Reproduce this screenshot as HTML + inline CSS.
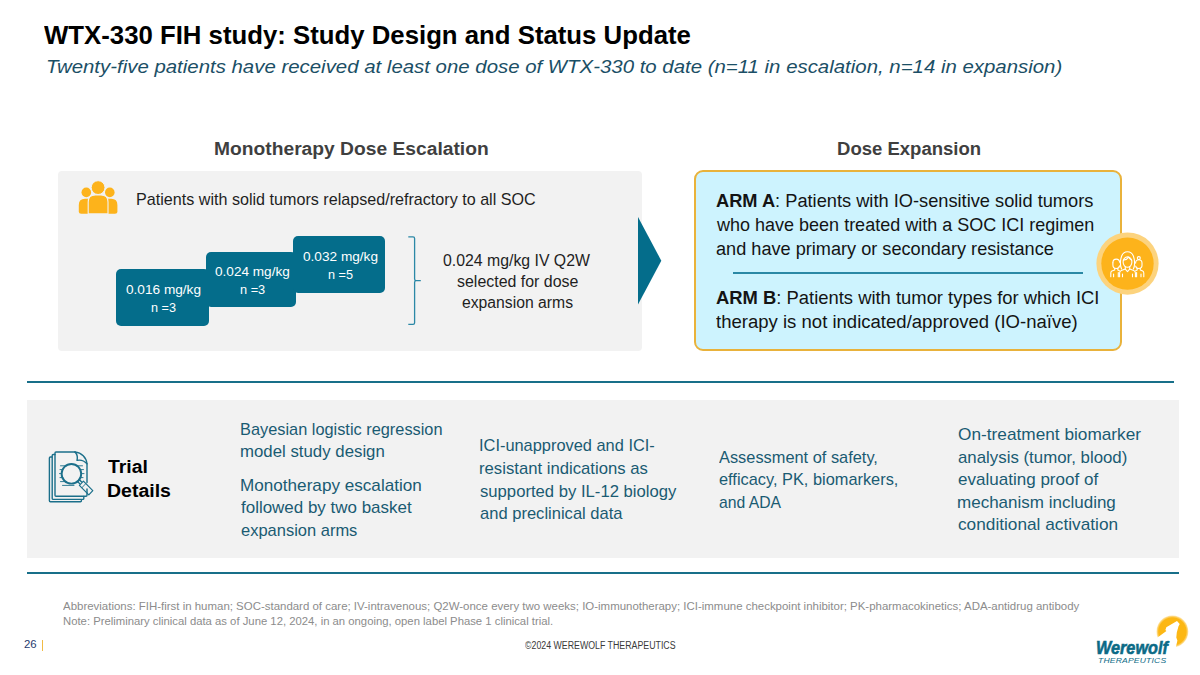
<!DOCTYPE html>
<html lang="en"><head><meta charset="utf-8"><title>WTX-330 FIH study: Study Design and Status Update</title>
<style>
html,body{margin:0;padding:0;background:#fff}
body{width:1200px;height:675px;position:relative;overflow:hidden;font-family:"Liberation Sans",sans-serif}
.t{position:absolute;white-space:nowrap;line-height:1;transform-origin:0 0;font-weight:400}
.t b{font-weight:700}
.s{position:absolute}
svg{position:absolute;overflow:visible}
</style></head><body>
<!-- escalation panel -->
<div class="s" style="left:58px;top:170.5px;width:584px;height:180.75px;background:#f2f2f2;border-radius:4px"></div>
<!-- lower band + rules -->
<div class="s" style="left:27px;top:399.5px;width:1152.25px;height:158.5px;background:#f2f2f2"></div>
<div class="s" style="left:27px;top:380.75px;width:1146.75px;height:2px;background:#186f89"></div>
<div class="s" style="left:27px;top:572px;width:1152px;height:2px;background:#186f89"></div>
<!-- dose boxes -->
<div class="s" style="left:115.75px;top:269.25px;width:93px;height:56.75px;background:#046d8b;border-radius:5px"></div>
<div class="s" style="left:205.75px;top:252px;width:90px;height:55px;background:#046d8b;border-radius:5px"></div>
<div class="s" style="left:292.5px;top:235.5px;width:92.5px;height:57px;background:#046d8b;border-radius:5px"></div>
<!-- bracket + arrow -->
<svg width="1200" height="675" style="left:0;top:0" viewBox="0 0 1200 675">
  <path d="M408.3 236.9 H413 Q414.6 236.9 414.6 238.5 V279 Q414.6 280.6 416.2 280.6 H420.8 H416.2 Q414.6 280.6 414.6 282.2 V322.8 Q414.6 324.4 413 324.4 H408.3" fill="none" stroke="#2b88a6" stroke-width="1.3"/>
  <polygon points="638,217 661.3,260.7 638,304.5" fill="#046d8b"/>
</svg>
<!-- people (solid) icon -->
<svg width="1200" height="675" style="left:0;top:0" viewBox="0 0 1200 675">
  <g fill="#fdb31b">
    <circle cx="86.3" cy="192.4" r="4.8"/><circle cx="109.8" cy="192.4" r="4.8"/>
    <path d="M78.8 211.3 V205 Q78.8 198.8 85 198.8 H90 V213.8 H81.3 Q78.8 213.8 78.8 211.3Z"/>
    <path d="M117.4 211.3 V205 Q117.4 198.8 111.2 198.8 H106 V213.8 H114.9 Q117.4 213.8 117.4 211.3Z"/>
    <circle cx="98.1" cy="187.6" r="6.9" stroke="#f2f2f2" stroke-width="1"/>
    <path d="M88.2 213.9 V202 Q88.2 195 95.2 195 H101 Q108 195 108 202 V213.9Z" stroke="#f2f2f2" stroke-width="1.1"/>
  </g>
</svg>
<!-- expansion panel -->
<div class="s" style="left:693.75px;top:170px;width:424.25px;height:177.25px;background:#cdf3fe;border:2px solid #e9b23b;border-radius:9px"></div>
<div class="s" style="left:732.5px;top:272px;width:350.5px;height:1.5px;background:#2a88a5"></div>
<svg width="1200" height="675" style="left:0;top:0" viewBox="0 0 1200 675">
  <circle cx="1127.5" cy="263.6" r="31.1" fill="#fcd37e"/>
  <circle cx="1127.5" cy="263.6" r="26.2" fill="#fdb31b"/>
  <g fill="none" stroke="#fff" stroke-width="1.1" stroke-linecap="round" stroke-linejoin="round" transform="translate(0 0.5)">
    <!-- centre person -->
    <path d="M1121.6 268.5 C1120.3 266 1120.2 262 1120.8 258.5 C1121.6 253.8 1124 251.3 1127.5 251.3 C1131 251.3 1133.4 253.8 1134.2 258.5 C1134.8 262 1134.7 266 1133.4 268.5"/>
    <ellipse cx="1127.5" cy="261.6" rx="4.4" ry="5.2"/>
    <path d="M1123.4 259.6 C1125.5 259.4 1127.6 258.3 1128.6 256.6 C1129.4 258.2 1130.4 259.2 1131.7 259.8"/>
    <path d="M1125.3 266.3 V268.6 L1127.5 271.2 L1129.7 268.6 V266.3"/>
    <path d="M1125.3 268.6 L1121.3 270 Q1119.6 270.7 1119.6 272.5 V276.2 M1129.7 268.6 L1133.7 270 Q1135.4 270.7 1135.4 272.5 V276.2"/>
    <path d="M1122.5 273.5 V276.2 M1132.5 273.5 V276.2"/>
    <!-- left person -->
    <path d="M1112.9 262.2 Q1112.9 258.6 1116.3 258.6 Q1119.4 258.6 1119.6 261.8"/>
    <path d="M1112.9 262.2 V264.6 Q1112.9 268 1116.2 268 Q1119 268 1119.5 265.3"/>
    <path d="M1114.7 267.8 V269.4 L1111.9 270.6 Q1110.8 271.2 1110.8 272.5 V276.2 M1117.8 267.8 V269.4 L1119.4 270.2"/>
    <path d="M1113.6 273.6 V276.2 M1118.3 272 V276.2"/>
    <!-- right person -->
    <circle cx="1138.8" cy="257.6" r="1.5"/>
    <path d="M1135.6 262.6 Q1135.6 259.2 1138.8 259.2 Q1142 259.2 1142 262.6 V264.8 Q1142 268 1138.8 268 Q1136.2 268 1135.7 265.6"/>
    <path d="M1140.3 267.8 V269.4 L1142.7 270.6 Q1143.8 271.2 1143.8 272.5 V276.2 M1137.2 267.8 V269.4 L1135.7 270.2"/>
    <path d="M1141 273.6 V276.2 M1136.6 272 V276.2"/>
  </g>
</svg>
<!-- document + magnifier icon -->
<svg width="1200" height="675" style="left:0;top:0" viewBox="0 0 1200 675">
  <g fill="none" stroke="#1b6f8a" stroke-width="1.4" stroke-linejoin="round" stroke-linecap="round">
    <path d="M52 457 H50.4 Q49.4 457 49.4 458 V500.8 Q49.4 501.8 50.4 501.8 H80.4 Q81.4 501.8 81.4 500.8 V499.6"/>
    <path d="M55 454.5 H53.2 Q52.2 454.5 52.2 455.5 V498.4 Q52.2 499.4 53.2 499.4 H82.8 Q83.8 499.4 83.8 498.4 V496.4"/>
    <path d="M75 452 H56 Q55 452 55 453 V495.2 Q55 496.2 56 496.2 H86 Q87 496.2 87 495.2 V489"/>
    <path d="M75 452 C81.5 452.6 86.4 457.4 87 463.8 V482.5"/>
    <path d="M75 452 C77.2 454.4 77.8 457.4 77 460.4 C80.6 459.6 84.2 460.8 87 463.8"/>
    <path d="M60.5 465.8 H66 M76.5 465.8 H82.5 M60 469.6 H63 M80 469.6 H83.5 M59.5 473.6 H61.8 M81 473.6 H84 M60 477.6 H63 M80 477.6 H83 M60.5 481.6 H66 M62.5 485.4 H74" stroke-width="0.9"/>
    <circle cx="71.4" cy="473.8" r="9.8" stroke-width="1.9"/>
    <path d="M77.4 481.2 L79.6 483.6 M79.2 479.6 L81.4 481.8"/>
    <path d="M79.4 485.4 L83.4 481.2 L92.8 490.6 L88.8 494.8 Z" stroke-width="1.2"/>
    <path d="M81.8 487.8 L85.8 483.6" stroke-width="0.9"/>
  </g>
</svg>
<!-- footer bar + logo -->
<div class="s" style="left:42.3px;top:639.5px;width:1.1px;height:11.2px;background:#f1bb45"></div>
<svg width="1200" height="675" style="left:0;top:0" viewBox="0 0 1200 675">
  <defs><radialGradient id="moon" cx="50%" cy="50%" r="50%"><stop offset="0.86" stop-color="#fcb714"/><stop offset="1" stop-color="#fcb714" stop-opacity="0.35"/></radialGradient></defs>
  <circle cx="1172.4" cy="631.5" r="15.9" fill="url(#moon)"/>
  <path d="M1177 620.9 L1179.7 623.9 L1178.5 626.2 L1176.8 632.4 L1176.3 637.6 L1177.4 640.6 L1175.6 648.5 L1150 648.5 L1157.2 637.8 L1166.4 631 L1165.4 630.1 L1166.3 627.3 Z" fill="#fff"/>
</svg>

<div class="t" style="left:44.00px;top:21px;line-height:28px;font-size:25.83px;color:#000000;transform:scaleX(0.9973)"><b>WTX-330 FIH study: Study Design and Status Update</b></div>
<div class="t" style="left:45.87px;top:57px;line-height:20px;font-size:18.0px;color:#1b4f66;transform:scaleX(1.1331);font-style:italic">Twenty-five patients have received at least one dose of WTX-330 to date (n=11 in escalation, n=14 in expansion)</div>
<div class="t" style="left:213.50px;top:138px;line-height:21px;font-size:19.17px;color:#3f3f3f;transform:scaleX(1.0042)"><b>Monotherapy Dose Escalation</b></div>
<div class="t" style="left:836.53px;top:138px;line-height:21px;font-size:19.17px;color:#3f3f3f;transform:scaleX(0.9672)"><b>Dose Expansion</b></div>
<div class="t" style="left:136.00px;top:190px;line-height:18px;font-size:16.2px;color:#1f1f1f;transform:scaleX(0.9961)">Patients with solid tumors relapsed/refractory to all SOC</div>
<div class="t" style="left:126.25px;top:282px;line-height:15px;font-size:13.5px;color:#ffffff;transform:scaleX(1.0096)">0.016 mg/kg</div>
<div class="t" style="left:151.25px;top:300px;line-height:15px;font-size:13.5px;color:#ffffff;transform:scaleX(0.9372)">n =3</div>
<div class="t" style="left:215.00px;top:264px;line-height:15px;font-size:13.5px;color:#ffffff;transform:scaleX(1.0063)">0.024 mg/kg</div>
<div class="t" style="left:239.50px;top:282px;line-height:15px;font-size:13.5px;color:#ffffff;transform:scaleX(0.9467)">n =3</div>
<div class="t" style="left:303.00px;top:249px;line-height:15px;font-size:13.5px;color:#ffffff;transform:scaleX(1.0096)">0.032 mg/kg</div>
<div class="t" style="left:327.50px;top:267px;line-height:15px;font-size:13.5px;color:#ffffff;transform:scaleX(0.9372)">n =5</div>
<div class="t" style="left:443.25px;top:252px;line-height:17px;font-size:15.57px;color:#1f1f1f;transform:scaleX(1.0172)">0.024 mg/kg IV Q2W</div>
<div class="t" style="left:456.75px;top:273px;line-height:17px;font-size:15.57px;color:#1f1f1f;transform:scaleX(1.0245)">selected for dose</div>
<div class="t" style="left:461.75px;top:294px;line-height:17px;font-size:15.57px;color:#1f1f1f;transform:scaleX(1.0107)">expansion arms</div>
<div class="t" style="left:716.25px;top:191px;line-height:20px;font-size:17.64px;color:#141414;transform:scaleX(1.0348)"><b>ARM A</b>: Patients with IO-sensitive solid tumors</div>
<div class="t" style="left:717.27px;top:215px;line-height:20px;font-size:17.64px;color:#141414;transform:scaleX(1.0215)">who have been treated with a SOC ICI regimen</div>
<div class="t" style="left:716.25px;top:239px;line-height:20px;font-size:17.64px;color:#141414;transform:scaleX(1.0293)">and have primary or secondary resistance</div>
<div class="t" style="left:716.25px;top:288px;line-height:20px;font-size:17.64px;color:#141414;transform:scaleX(1.0440)"><b>ARM B</b>: Patients with tumor types for which ICI</div>
<div class="t" style="left:716.25px;top:312px;line-height:20px;font-size:17.64px;color:#141414;transform:scaleX(1.0517)">therapy is not indicated/approved (IO-naïve)</div>
<div class="t" style="left:108.25px;top:456px;line-height:21px;font-size:19.17px;color:#000000;transform:scaleX(1.0112)"><b>Trial</b></div>
<div class="t" style="left:107.23px;top:480px;line-height:21px;font-size:19.17px;color:#000000;transform:scaleX(1.0177)"><b>Details</b></div>
<div class="t" style="left:239.77px;top:420px;line-height:19px;font-size:16.74px;color:#1a5b72;transform:scaleX(0.9764)">Bayesian logistic regression</div>
<div class="t" style="left:239.75px;top:442px;line-height:19px;font-size:16.74px;color:#1a5b72;transform:scaleX(1.0043)">model study design</div>
<div class="t" style="left:239.73px;top:476px;line-height:19px;font-size:16.74px;color:#1a5b72;transform:scaleX(1.0234)">Monotherapy escalation</div>
<div class="t" style="left:240.75px;top:498px;line-height:19px;font-size:16.74px;color:#1a5b72;transform:scaleX(1.0135)">followed by two basket</div>
<div class="t" style="left:240.75px;top:521px;line-height:19px;font-size:16.74px;color:#1a5b72;transform:scaleX(0.9850)">expansion arms</div>
<div class="t" style="left:479.02px;top:436px;line-height:19px;font-size:16.74px;color:#1a5b72;transform:scaleX(0.9792)">ICI-unapproved and ICI-</div>
<div class="t" style="left:479.00px;top:459px;line-height:19px;font-size:16.74px;color:#1a5b72;transform:scaleX(0.9975)">resistant indications as</div>
<div class="t" style="left:480.00px;top:482px;line-height:19px;font-size:16.74px;color:#1a5b72;transform:scaleX(0.9957)">supported by IL-12 biology</div>
<div class="t" style="left:480.00px;top:504px;line-height:19px;font-size:16.74px;color:#1a5b72;transform:scaleX(0.9887)">and preclinical data</div>
<div class="t" style="left:719.25px;top:448px;line-height:19px;font-size:16.74px;color:#1a5b72;transform:scaleX(0.9781)">Assessment of safety,</div>
<div class="t" style="left:719.25px;top:470px;line-height:19px;font-size:16.74px;color:#1a5b72;transform:scaleX(0.9775)">efficacy, PK, biomarkers,</div>
<div class="t" style="left:719.25px;top:493px;line-height:19px;font-size:16.74px;color:#1a5b72;transform:scaleX(0.9400)">and ADA</div>
<div class="t" style="left:958.25px;top:425px;line-height:19px;font-size:16.74px;color:#1a5b72;transform:scaleX(1.0306)">On-treatment biomarker</div>
<div class="t" style="left:958.25px;top:448px;line-height:19px;font-size:16.74px;color:#1a5b72;transform:scaleX(1.0058)">analysis (tumor, blood)</div>
<div class="t" style="left:958.25px;top:470px;line-height:19px;font-size:16.74px;color:#1a5b72;transform:scaleX(1.0178)">evaluating proof of</div>
<div class="t" style="left:957.23px;top:493px;line-height:19px;font-size:16.74px;color:#1a5b72;transform:scaleX(1.0164)">mechanism including</div>
<div class="t" style="left:958.25px;top:515px;line-height:19px;font-size:16.74px;color:#1a5b72;transform:scaleX(1.0303)">conditional activation</div>
<div class="t" style="left:63.25px;top:600px;line-height:12px;font-size:11.34px;color:#8c8c8c;transform:scaleX(1.0109)">Abbreviations: FIH-first in human; SOC-standard of care; IV-intravenous; Q2W-once every two weeks; IO-immunotherapy; ICI-immune checkpoint inhibitor; PK-pharmacokinetics; ADA-antidrug antibody</div>
<div class="t" style="left:63.25px;top:615px;line-height:12px;font-size:11.34px;color:#8c8c8c;transform:scaleX(0.9979)">Note: Preliminary clinical data as of June 12, 2024, in an ongoing, open label Phase 1 clinical trial.</div>
<div class="t" style="left:23.75px;top:638px;line-height:12px;font-size:11.07px;color:#1f3a6e;transform:scaleX(1.0286)">26</div>
<div class="t" style="left:525.00px;top:640px;line-height:11px;font-size:10.44px;color:#3a3a3a;transform:scaleX(0.8430)">©2024 WEREWOLF THERAPEUTICS</div>
<div class="t" style="left:1096.37px;top:638px;line-height:20px;font-size:17.5px;color:#0b6a86;transform:scaleX(0.9270);font-style:italic;-webkit-text-stroke:0.55px #0b6a86"><b>Werewolf</b></div>
<div class="t" style="left:1097.50px;top:657px;line-height:7px;font-size:7.0px;color:#0b6a86;transform:scaleX(1.2200);font-style:italic;letter-spacing:0.159px">THERAPEUTICS</div>
</body></html>
